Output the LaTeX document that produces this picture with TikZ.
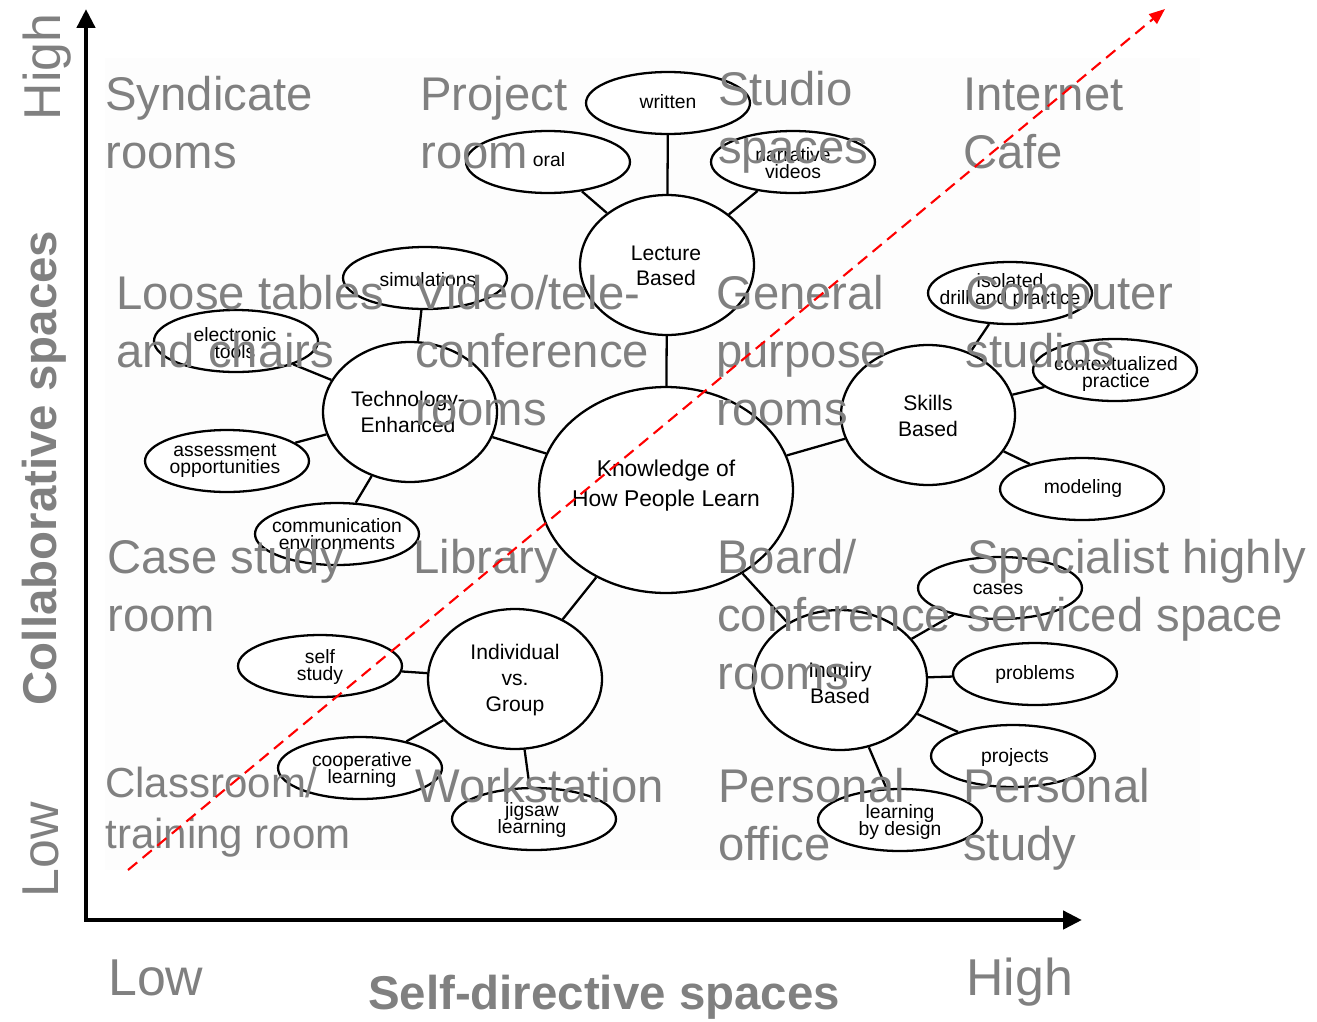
\documentclass[tikz,border=0pt]{standalone}
\usepackage{fontspec}
\setmainfont{Liberation Sans}
\usetikzlibrary{shapes.geometric,arrows.meta}
\definecolor{roomgray}{HTML}{808080}
\definecolor{panel}{HTML}{FDFDFD}
\newcommand\leaffont{\fontsize{11}{9.9}\selectfont\lineskiplimit=-20pt\relax}
\newcommand\themefont{\fontsize{12}{14.6}\selectfont\lineskiplimit=-20pt\relax}
\newcommand\corefont{\fontsize{13}{17}\selectfont\lineskiplimit=-20pt\relax}

\begin{document}
\begin{tikzpicture}[x=0.02cm,y=-0.02cm,
  bubble/.style={ellipse,draw=black,line width=1.3pt,fill=white,inner sep=0pt},
  leaf/.style={bubble,minimum width=3.28cm,minimum height=1.24cm},
  theme/.style={bubble,minimum width=3.48cm,minimum height=2.8cm},
  core/.style={bubble,minimum width=5.08cm,minimum height=4.12cm},
  leaftext/.style={align=center,inner sep=0pt,font=\leaffont},
  themetext/.style={align=center,inner sep=0pt,font=\themefont},
  coretext/.style={align=center,inner sep=0pt,font=\corefont},
  link/.style={draw=black,line width=1.3pt},
  % multi-line labels are anchored at the baseline of their last line
  room/.style={anchor=base west,align=left,inner sep=0pt,text=roomgray,
    font=\fontsize{26.9}{32.9}\selectfont},
  smallroom/.style={room,font=\fontsize{23.9}{29}\selectfont},
  axislabel/.style={inner sep=0pt,text=roomgray,font=\fontsize{29.5}{35}\selectfont},
  axistitle/.style={inner sep=0pt,text=roomgray,font=\fontsize{27}{32}\selectfont\bfseries},
  axis/.style={line width=2.6pt,line join=miter,
    {Triangle[length=10.8pt,width=10.2pt]}-{Triangle[length=10.8pt,width=10.2pt]}},
  trend/.style={red,line width=1.2pt,dash pattern=on 6.8pt off 4pt,
    -{Triangle[length=9pt,width=7pt]}}
]
\useasboundingbox (0,0) rectangle (1317,1021);

% faint panel behind the concept map
\fill[panel] (105,58) rectangle (1200,870);

% axes
\coordinate (ytip) at (86,9);
\coordinate (origin) at (86,920);
\coordinate (xtip) at (1082,920);
\draw[axis] (ytip) -- (origin) -- (xtip);

% ellipses
\node[core]  (know) at (666,490) {};
\node[theme] (lect) at (667,265) {};
\node[theme] (tech) at (410,412) {};
\node[theme] (skil) at (928,415) {};
\node[theme] (inq)  at (840,680) {};
\node[theme] (ind)  at (515,679) {};

\node[leaf] (written) at (668,103) {};
\node[leaf] (oral)    at (548,162) {};
\node[leaf] (narr)    at (793,162) {};
\node[leaf] (simu)    at (425,278) {};
\node[leaf] (etools)  at (236,341) {};
\node[leaf] (assess)  at (227,461) {};
\node[leaf] (comm)    at (337,534) {};
\node[leaf] (drill)   at (1010,293) {};
\node[leaf] (context) at (1115,370) {};
\node[leaf] (model)   at (1082,489) {};
\node[leaf] (cases)   at (1000,588) {};
\node[leaf] (probs)   at (1035,674) {};
\node[leaf] (projs)   at (1013,756) {};
\node[leaf] (design)  at (900,820) {};
\node[leaf] (self)    at (320,666) {};
\node[leaf] (coop)    at (360,768) {};
\node[leaf] (jigsaw)  at (534,819) {};

% connectors
\path[link] (know) -- (lect) (know) -- (tech) (know) -- (skil)
  (know) -- (inq) (know) -- (ind)
  (lect) -- (written) (lect) -- (oral) (lect) -- (narr)
  (tech) -- (simu) (tech) -- (etools) (tech) -- (assess) (tech) -- (comm)
  (skil) -- (drill) (skil) -- (context) (skil) -- (model)
  (inq) -- (cases) (inq) -- (probs) (inq) -- (projs) (inq) -- (design)
  (ind) -- (self) (ind) -- (coop) (ind) -- (jigsaw);

% ellipse texts
\node[coretext]  (know-t) at (666,486) {Knowledge of\\How People Learn};
\node[themetext] (lect-t) at (666,266) {Lecture\\Based};
\node[themetext] (tech-t) at (408,412) {Technology-\\Enhanced};
\node[themetext] (skil-t) at (928,416) {Skills\\Based};
\node[themetext] (inq-t)  at (840,683) {Inquiry\\Based};
\node[themetext] (ind-t)  at (515,680) {Individual\\vs.\\Group};

\node[leaftext] (written-t) at (668,102) {written};
\node[leaftext] (oral-t)    at (549,160) {oral};
\node[leaftext] (narr-t)    at (793,163) {narrative\\videos};
\node[leaftext] (simu-t)    at (428,280) {simulations};
\node[leaftext] (etools-t)  at (235,343) {electronic\\tools};
\node[leaftext] (assess-t)  at (225,461) {assessment\\opportunities};
\node[leaftext] (comm-t)    at (337,534) {communication\\environments};
\node[leaftext] (drill-t)   at (1010,291) {isolated\\drill and practice};
\node[leaftext] (context-t) at (1116,374) {contextualized\\practice};
\node[leaftext] (model-t)   at (1083,488) {modeling};
\node[leaftext] (cases-t)   at (998,589) {cases};
\node[leaftext] (probs-t)   at (1035,674) {problems};
\node[leaftext] (projs-t)   at (1015,757) {projects};
\node[leaftext] (design-t)  at (900,822) {learning\\by design};
\node[leaftext] (self-t)    at (320,667) {self\\study};
\node[leaftext] (coop-t)    at (362,770) {cooperative\\learning};
\node[leaftext] (jigsaw-t)  at (532,820) {jigsaw\\learning};

% learning spaces
\node[room] (syn)  at (105,168) {Syndicate\\rooms};
\node[room] (proj) at (420,168) {Project\\room};
\node[room] (stud) at (718,163) {Studio\\spaces};
\node[room] (cafe) at (963,168) {Internet\\Cafe};
\node[room] (loose) at (116,367) {Loose tables\\and chairs};
\node[room] (video) at (415,425) {Video/tele-\\conference\\rooms};
\node[room] (gen)   at (716,425) {General\\purpose\\rooms};
\node[room] (comp)  at (965,367) {Computer\\studios};
\node[room] (case)  at (107,631) {Case study\\room};
\node[room] (lib)   at (413,573) {Library};
\node[room] (board) at (717,689) {Board/\\conference\\rooms};
\node[room] (spec)  at (967,631) {Specialist highly\\serviced space};
\node[smallroom] (class) at (105,848) {Classroom/\\training room};
\node[room] (work)  at (415,802) {Workstation};
\node[room] (poff)  at (718,860) {Personal\\office};
\node[room] (pstud) at (963,860) {Personal\\study};

% axis labels
\node[axislabel,rotate=90,anchor=base] (yhigh) at (60,67) {High};
\node[axislabel,rotate=90,anchor=base] (ylow)  at (58,850) {Low};
\node[axistitle,rotate=90,anchor=base] (ytitle) at (56,468) {Collaborative spaces};
\node[axislabel,anchor=base west] (xlow)  at (108,995) {Low};
\node[axislabel,anchor=base west] (xhigh) at (966,995) {High};
\node[axistitle,anchor=base] (xtitle) at (604,1009) {Self-directive spaces};

% trend line
\coordinate (tstart) at (128,870);
\coordinate (tend) at (1165,9);
\draw[trend] (tstart) -- (tend);
\end{tikzpicture}
\end{document}
